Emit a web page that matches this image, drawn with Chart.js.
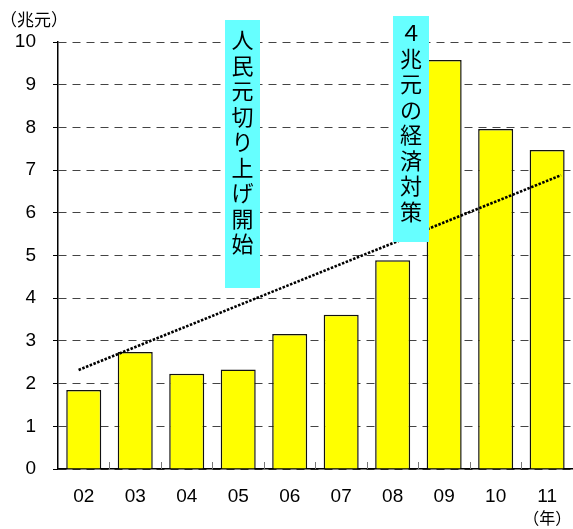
<!DOCTYPE html>
<html>
<head>
<meta charset="utf-8">
<script src="https://cdn.jsdelivr.net/npm/chart.js@4"></script>
<style>
  html, body { margin: 0; padding: 0; background: #fff; }
  #wrap { width: 573px; height: 529px; }
</style>
</head>
<body>
<div id="wrap"><canvas id="chart" width="573" height="529"></canvas></div>
<script>
// données
const years = ['02', '03', '04', '05', '06', '07', '08', '09', '10', '11'];
const values = [1.85, 2.74, 2.23, 2.33, 3.16, 3.61, 4.89, 9.58, 7.96, 7.47];
// tendance : deux extrémités (position en catégories, valeur)
const trendX = [-0.1, 9.27];
const trendY = [2.32, 6.88];
const yTicks = [0, 1, 2, 3, 4, 5, 6, 7, 8, 9, 10];

const notes = [
    { text: '人民元切り上げ開始', x: 225, y: 20, w: 35, h: 268, first: 40 },
    { text: '４兆元の経済対策', x: 393, y: 16, w: 36, h: 226, first: 33 }
];

const jpFont = '"Noto Sans CJK JP", "Noto Sans", sans-serif';
const numFont = '"Liberation Sans", Arial, sans-serif';

// petits repères, titres d'axes et encadrés
const extras = {
    id: 'extras',
    afterDatasetsDraw(chart) {
        const c = chart.ctx;
        const xs = chart.scales.x;
        const area = chart.chartArea;
        c.save();
        // repères entre les catégories, vers l'intérieur
        c.strokeStyle = '#777';
        c.lineWidth = 1;
        for (let i = 1; i < years.length; i++) {
            const px = Math.round((xs.getPixelForValue(i - 1) + xs.getPixelForValue(i)) / 2) + 0.5;
            c.beginPath();
            c.moveTo(px, area.bottom);
            c.lineTo(px, area.bottom - 7);
            c.stroke();
        }
        // encadrés verticaux
        notes.forEach(n => {
            c.fillStyle = '#66ffff';
            c.fillRect(n.x, n.y, n.w, n.h);
            c.fillStyle = '#000';
            c.font = '22px ' + jpFont;
            c.textAlign = 'center';
            c.textBaseline = 'middle';
            [...n.text].forEach((ch, k) => {
                c.fillText(ch, n.x + n.w / 2, n.first + k * 25.5);
            });
        });
        // titres
        c.fillStyle = '#000';
        c.font = '17px ' + jpFont;
        c.textAlign = 'left';
        c.textBaseline = 'middle';
        c.fillText('（兆元）', 0, 20);
        c.font = '16px ' + jpFont;
        c.textAlign = 'center';
        c.fillText('（年）', xs.getPixelForValue(years.length - 1), 518);
        c.restore();
    }
};

const ctx = document.getElementById('chart').getContext('2d');
new Chart(ctx, {
    data: {
        labels: years,
        datasets: [
            {
                type: 'bar',
                data: values,
                backgroundColor: '#ffff00',
                borderColor: '#111',
                borderWidth: 1.5,
                barPercentage: 0.68,
                categoryPercentage: 1,
                grouped: false,
                order: 2
            },
            {
                type: 'line',
                xAxisID: 'xt',
                data: trendX.map((x, i) => ({ x: x, y: trendY[i] })),
                borderColor: '#000',
                borderWidth: 2.6,
                borderDash: [2.5, 1.5],
                pointRadius: 0,
                fill: false,
                order: 1
            }
        ]
    },
    options: {
        responsive: false,
        animation: false,
        layout: { padding: { top: 42, right: 0, left: 0, bottom: 0 } },
        plugins: { legend: { display: false }, tooltip: { enabled: false } },
        scales: {
            x: {
                offset: true,
                grid: { display: false, drawTicks: false },
                border: { display: true, color: '#000', width: 1.5 },
                ticks: { color: '#000', font: { family: numFont, size: 19 }, padding: 16, maxRotation: 0 },
                afterFit(s) { s.height = 60; }
            },
            xt: {
                type: 'linear',
                display: false,
                min: -0.5,
                max: 9.5
            },
            y: {
                min: 0,
                max: 10,
                afterBuildTicks(s) { s.ticks = yTicks.map(v => ({ value: v })); },
                grid: {
                    color: '#444',
                    lineWidth: 1,
                    tickLength: 5,
                    tickColor: '#000',
                    tickBorderDash: []
                },
                border: { display: true, color: '#000', width: 1.5, dash: [8, 6] },
                ticks: { color: '#000', font: { family: numFont, size: 19 }, padding: 17 },
                afterFit(s) { s.width = 58; }
            }
        }
    },
    plugins: [extras]
});
</script>
</body>
</html>
